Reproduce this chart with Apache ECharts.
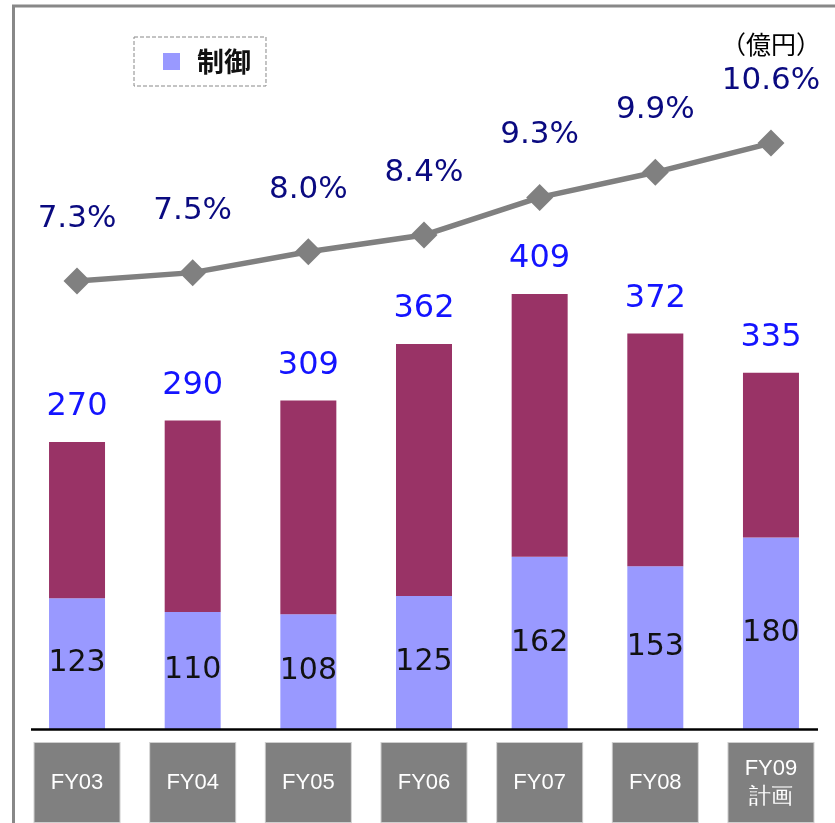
<!DOCTYPE html>
<html>
<head>
<meta charset="utf-8">
<script src="https://cdn.jsdelivr.net/npm/echarts@6/dist/echarts.min.js"></script>
<style>
html,body{margin:0;padding:0;background:#fff;}
#chart{width:835px;height:823px;}
</style>
</head>
<body>
<div id="chart"></div>
<script>
// ---- data ----
var categories = ['FY03', 'FY04', 'FY05', 'FY06', 'FY07', 'FY08', 'FY09\n計画'];
var controlValues = [123, 110, 108, 125, 162, 153, 180];   // 制御
var otherValues = [147, 180, 201, 237, 247, 219, 155];     // その他
var totalValues = [270, 290, 309, 362, 409, 372, 335];     // 合計
var ratioValues = [7.3, 7.5, 8.0, 8.4, 9.3, 9.9, 10.6];    // 比率 (%)
var unitLabel = '（億円）';

var numFont = '"DejaVu Sans", sans-serif';
var cjkFont = '"Noto Sans CJK JP", sans-serif';
var catFont = '"Liberation Sans Narrow", "Liberation Sans", sans-serif';

var chart = echarts.init(document.getElementById('chart'), null, {renderer: 'canvas'});

var option = {
  backgroundColor: '#ffffff',
  animation: false,
  title: {
    text: unitLabel,
    left: 721, top: 28,
    padding: 0,
    textStyle: {fontSize: 25, fontFamily: cjkFont, fontWeight: 'normal', color: '#000', lineHeight: 32}
  },
  grid: {left: 19.2, right: 6.2, top: 37.8, bottom: 94},
  legend: {
    data: ['制御'],
    left: 134, top: 37,
    padding: [11, 15, 11, 29],
    borderColor: '#888', borderWidth: 1, borderType: 'dashed',
    icon: 'rect', itemWidth: 17, itemHeight: 17,
    textStyle: {fontSize: 27, fontFamily: cjkFont, fontWeight: 'bold', color: '#111', padding: [0, 0, 0, 12], lineHeight: 27},
    selectedMode: false
  },
  xAxis: {
    type: 'category',
    data: categories,
    axisLine: {show: false},
    axisTick: {show: false},
    axisLabel: {
      interval: 0,
      margin: 14,
      width: 85,
      align: 'center',
      verticalAlign: 'top',
      backgroundColor: '#808080',
      borderColor: '#cfcfcf',
      borderWidth: 1,
      padding: [11.5, 0, 11.5, 0],
      formatter: function (v) {
        if (v.indexOf('\n') >= 0) {
          return v.split('\n').map(function (s) { return '{t|' + s + '}'; }).join('\n');
        }
        return '{s|' + v + '}';
      },
      rich: {
        s: {lineHeight: 56, fontSize: 22, color: '#fff', fontFamily: catFont},
        t: {lineHeight: 28, fontSize: 22, color: '#fff', fontFamily: catFont}
      }
    }
  },
  yAxis: [
    {type: 'value', min: 0, max: 650, show: false, splitLine: {show: false}},
    {type: 'value', min: -3.418, max: 13.118, show: false, splitLine: {show: false}, alignTicks: false}
  ],
  series: [
    {
      name: '制御', type: 'bar', stack: 'total', barWidth: 56,
      data: controlValues,
      itemStyle: {color: '#9999FF'},
      label: {show: true, position: 'inside', color: '#111', fontSize: 30, fontFamily: numFont}
    },
    {
      name: 'その他', type: 'bar', stack: 'total', barWidth: 56,
      data: otherValues,
      itemStyle: {color: '#993366'},
      label: {
        show: true, position: 'top', distance: 19,
        color: '#1414ff', fontSize: 32, fontFamily: numFont,
        formatter: function (p) { return String(totalValues[p.dataIndex]); }
      }
    },
    {
      name: '比率', type: 'line', yAxisIndex: 1,
      data: ratioValues,
      symbol: 'diamond', symbolSize: 27,
      lineStyle: {color: '#808080', width: 5.5},
      itemStyle: {color: '#808080'},
      z: 5,
      label: {
        show: true, position: 'top', distance: 33,
        color: '#0a0a80', fontSize: 31, fontFamily: numFont,
        formatter: function (p) { return p.value.toFixed(1) + '%'; }
      }
    }
  ],
  graphic: [
    {type: 'line', shape: {x1: 12, y1: 6, x2: 835, y2: 6}, style: {stroke: '#888', lineWidth: 3}, silent: true},
    {type: 'line', shape: {x1: 13.5, y1: 5, x2: 13.5, y2: 823}, style: {stroke: '#888', lineWidth: 3}, silent: true},
    {type: 'line', shape: {x1: 31, y1: 729.5, x2: 818, y2: 729.5}, style: {stroke: '#000', lineWidth: 2.5}, silent: true, z: 10}
  ]
};

chart.setOption(option);
</script>
</body>
</html>
